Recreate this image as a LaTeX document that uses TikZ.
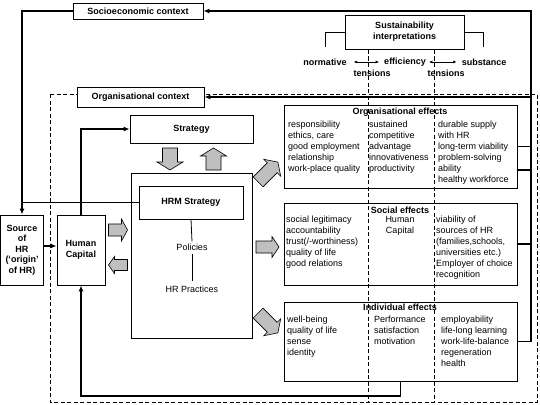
\documentclass[tikz,border=0pt]{standalone}
\usepackage{fontspec}
\setmainfont{Liberation Sans}
\usetikzlibrary{arrows.meta,calc}
\newcommand\myfs{\fontsize{9}{11}\selectfont}
\tikzset{pics/blkarrow/.style n args={4}{code={%
  \draw[blk] ({-#1/2},{#2/2}) -- ({#1/2-#4},{#2/2}) -- ({#1/2-#4},{#3/2}) -- ({#1/2},0) -- ({#1/2-#4},{-#3/2}) -- ({#1/2-#4},{-#2/2}) -- ({-#1/2},{-#2/2}) -- cycle;}}}
\begin{document}
\begin{tikzpicture}[x=1pt,y=-1pt,
 box/.style={draw,line width=0.8pt,inner sep=0pt,align=center,font=\myfs\bfseries},
 conn/.style={line width=1.4pt},
 tip/.style={-{Latex[length=6pt,width=5pt]}},
 txt/.style={inner sep=0pt,align=left,anchor=north west,font=\myfs},
 ctxt/.style={inner sep=0pt,align=center,anchor=north,font=\myfs},
 ttl/.style={inner sep=0pt,font=\myfs\bfseries},
 blk/.style={draw,fill=black!25,line width=0.6pt,line join=miter},
 dsh/.style={dash pattern=on 4pt off 2.5pt,line width=0.8pt},
 dbl/.style={line width=0.6pt,{Latex[length=3.5pt,width=3pt]}-{Latex[length=3.5pt,width=3pt]},shorten <=2pt,shorten >=2pt}]
\useasboundingbox (0,0) rectangle (540,404);
% organisational context dashed frame
\draw[dsh] (50,94) rectangle (537,402);
\draw[dsh] (368,50) -- (368,402);
\draw[dsh] (434,50) -- (434,402);
% boxes
\node[box,fill=white,minimum width=130pt,minimum height=16pt] (socio) at (138,11) {Socioeconomic context};
\node[box,fill=white,minimum width=127pt,minimum height=20pt] (orgctx) at (140.5,97) {Organisational context};
\node[box,fill=white,minimum width=119pt,minimum height=34pt] (sust) at (404.5,32) {Sustainability\\interpretations};
\node[box,minimum width=123pt,minimum height=28pt] (strat) at (191.5,129) {Strategy};
\node[box,minimum width=121pt,minimum height=165pt] (hrmout) at (191.5,255.5) {};
\node[box,minimum width=104pt,minimum height=33pt] (hrms) at (191,202.5) {HRM Strategy};
\node[box,minimum width=43pt,minimum height=70pt,font=\fontsize{9}{10.5}\selectfont\bfseries] (src) at (22,250) {Source\\of\\HR\\(‘origin’\\of HR)};
\node[box,minimum width=48pt,minimum height=70pt] (hc) at (81,250) {Human\\Capital};
\node[box,minimum width=233pt,minimum height=83pt] (orgeff) at (400.5,146.5) {};
\node[box,minimum width=233pt,minimum height=82pt] (soceff) at (400.5,244) {};
\node[box,minimum width=233pt,minimum height=79pt] (indeff) at (400.5,341.5) {};
% HRM inner texts
\node[inner sep=0pt,font=\myfs] (pol) at (192,247) {Policies};
\node[inner sep=0pt,font=\myfs] (hrp) at (192,289) {HR Practices};
\draw[line width=0.8pt] (hrms.south) -- ([yshift=2pt]pol.north);
\draw[line width=0.8pt] ([yshift=-3pt]pol.south) -- ([yshift=4pt]hrp.north);
% sustainability
\node[ttl,inner sep=3pt] (nor) at (325,62) {normative};
\node[ttl,inner sep=3pt] (eff) at (405,62) {efficiency};
\node[ttl,inner sep=3pt] (sub) at (484,62) {substance};
\node[ttl] (ten1) at (372,73) {tensions};
\node[ttl] (ten2) at (446,73) {tensions};
\draw[dbl,shorten <=4pt] (nor.east) -- (eff.west);
\draw[dbl,shorten <=0pt] (eff.east) -- (sub.west);
\draw[line width=0.8pt] (sust.west) -- ++(-19,0) -- ++(0,15);
\draw[line width=0.8pt] (sust.east) -- ++(19,0) -- ++(0,15);
% effect texts
\node[ttl] (oeT) at (400,112) {Organisational effects};
\node[txt] (oe1) at (288,120.7) {responsibility\\ethics, care\\good employment\\relationship\\work-place quality};
\node[txt] (oe2) at (369,120.7) {sustained\\competitive\\advantage\\innovativeness\\productivity};
\node[txt] (oe3) at (438,120.7) {durable supply\\with HR\\long-term viability\\problem-solving\\ability\\healthy workforce};
\node[ttl] (seT) at (400,210) {Social effects};
\node[txt] (se1) at (286,215.7) {social legitimacy\\accountability\\trust(/-worthiness)\\quality of life\\good relations};
\node[ctxt] (se2) at (400,215.7) {Human\\Capital};
\node[txt] (se3) at (436,215.7) {viability of\\sources of HR\\(families,schools,\\universities etc.)\\Employer of choice\\recognition};
\node[ttl] (ieT) at (400,307) {Individual effects};
\node[txt] (ie1) at (287,315.7) {well-being\\quality of life\\sense\\identity};
\node[txt] (ie2) at (374,315.7) {Performance\\satisfaction\\motivation};
\node[txt] (ie3) at (441,315.7) {employability\\life-long learning\\work-life-balance\\regeneration\\health};
% block arrows
\pic[rotate=-90] at (170,159) {blkarrow={22}{15}{26}{8}};
\pic[rotate=90] at (213.5,159) {blkarrow={22}{15}{26}{8}};
\pic at (118,230) {blkarrow={19}{12}{22}{6}};
\pic[rotate=180] at (118,265) {blkarrow={19}{11}{17}{6}};
\pic[rotate=45] at (268,172) {blkarrow={28}{14}{24}{8}};
\pic at (267.5,247) {blkarrow={23}{12}{21}{7}};
\pic[rotate=-45] at (268,323) {blkarrow={28}{14}{24}{8}};
% connectors
\coordinate (busT) at (531,11);
\coordinate (low) at (0,396);
\draw[conn,tip] (indeff.east) -| (busT) -- (socio.east);
\draw[conn,tip] (busT |- orgctx.east) -- (orgctx.east);
\draw[conn] (soceff.east) -- (soceff.east -| busT);
\draw[conn] (orgeff.east) -- (orgeff.east -| busT);
\draw[conn] ([yshift=-23.5pt]orgeff.east) -- ([yshift=-23.5pt]orgeff.east -| busT);
\draw[conn,tip] (socio.west) -| (src.north);
\draw[conn] (src.north |- hrms.west) -- (hrms.west);
\draw[conn,tip] ([yshift=4pt]src.east) -- ([yshift=4pt]hc.west);
\draw[conn,tip] (hc.north) |- (strat.west);
\draw[conn,tip] (indeff.south) -- (indeff.south |- low) -| (hc.south);
\end{tikzpicture}
\end{document}
